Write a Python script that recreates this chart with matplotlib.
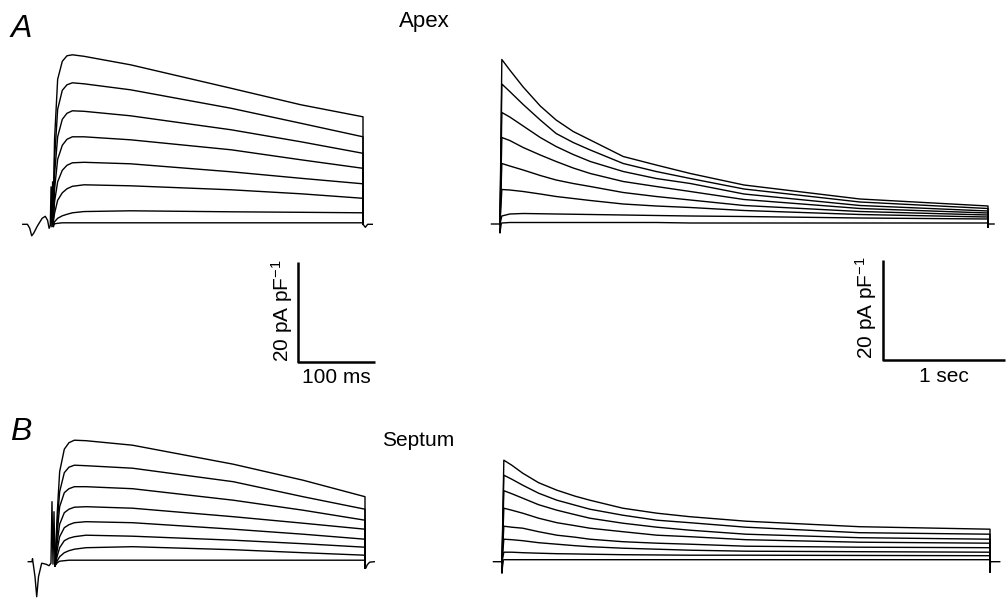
import matplotlib
matplotlib.use('Agg')
import matplotlib.pyplot as plt

plt.rcParams['font.family'] = ['Liberation Sans', 'DejaVu Sans']
plt.rcParams['mathtext.fontset'] = 'custom'
plt.rcParams['mathtext.rm'] = 'Liberation Sans'
plt.rcParams['mathtext.default'] = 'regular'

# ---- A (apex), 400 ms steps: time in ms, current in pA/pF
t_a_short = [0, 2, 6, 12, 18, 25, 40, 100, 230, 320, 400]
i_a_short = [
    [0, 17.0, 29.0, 32.6, 33.7, 33.9, 33.6, 31.9, 27.2, 23.9, 21.5],
    [0, 13.0, 23.0, 26.8, 27.9, 28.3, 28.1, 26.9, 23.2, 20.2, 17.5],
    [0, 10.0, 17.5, 21.0, 22.2, 22.7, 22.6, 21.7, 18.9, 16.5, 14.2],
    [0, 7.0, 13.0, 15.8, 17.0, 17.5, 17.5, 16.9, 14.9, 12.9, 11.2],
    [0, 4.5, 8.5, 10.8, 11.8, 12.3, 12.4, 12.1, 10.5, 9.2, 8.1],
    [0, 2.2, 4.8, 6.3, 7.1, 7.6, 7.9, 7.7, 6.9, 6.1, 5.2],
    [0, 0.5, 1.2, 1.7, 2.0, 2.3, 2.55, 2.7, 2.5, 2.4, 2.3],
    [0, 0.1, 0.2, 0.3, 0.3, 0.3, 0.3, 0.3, 0.3, 0.3, 0.3],
]
art_a_short_t = [-39, -33, -30, -27.5, -25, -20, -14, -10, -7, -5, -3.5, -2.5, -1.5, -0.5, 0.5, 1.5]
art_a_short_i = [0, 0, -0.8, -2.3, -1.8, -0.3, 1.2, 1.6, 0.8, -0.8, -0.3, 7.5, -0.5, 8.5, -0.5, 0]
tail_a_short_t = [400, 403, 406, 412]
tail_a_short_i = [0, -0.6, 0, 0]

# ---- A (apex), 4 s steps: time in s
t_a_long = [0, 0.015, 0.08, 0.19, 0.33, 0.46, 0.6, 0.74, 1.01, 1.28, 1.56, 2.0, 2.95, 4.0]
i_a_long = [
    [0, 32.9, 30.8, 27.4, 23.6, 20.8, 18.5, 16.8, 13.5, 11.8, 10.1, 7.8, 5.0, 3.6],
    [0, 28.0, 26.5, 23.9, 20.8, 18.1, 16.3, 14.8, 12.1, 10.5, 9.1, 7.0, 4.4, 3.1],
    [0, 22.3, 21.4, 19.6, 17.3, 15.5, 13.9, 12.5, 10.5, 9.1, 8.1, 6.0, 3.7, 2.6],
    [0, 17.3, 16.7, 15.3, 13.8, 12.5, 11.2, 10.1, 8.5, 7.5, 6.5, 4.9, 3.1, 2.2],
    [0, 12.1, 11.6, 10.8, 9.7, 8.8, 8.1, 7.5, 6.3, 5.5, 4.8, 3.7, 2.5, 1.8],
    [0, 6.9, 6.8, 6.5, 6.0, 5.5, 5.1, 4.7, 4.0, 3.6, 3.3, 2.7, 1.9, 1.4],
    [0, 1.6, 2.0, 2.1, 2.05, 2.0, 1.95, 1.9, 1.8, 1.7, 1.6, 1.5, 1.2, 1.0],
    [0, 0.2, 0.3, 0.3, 0.3, 0.3, 0.3, 0.3, 0.3, 0.3, 0.2, 0.2, 0.2, 0.2],
]
art_a_long_t = [-0.07, -0.002, 0.0, 0.004, 0.01]
art_a_long_i = [0, 0, -1.8, -1.0, 0]
tail_a_long_t = [4.0, 4.004, 4.05]
tail_a_long_i = [-0.6, 0, 0]

# ---- B (septum), 400 ms steps
t_b_short = [0, 3, 6, 12, 18, 25, 40, 100, 230, 320, 400]
i_b_short = [
    [-0.8, 10.0, 18.0, 22.5, 23.8, 24.3, 24.2, 23.3, 19.5, 16.3, 13.0],
    [-0.8, 8.0, 14.0, 17.8, 18.9, 19.3, 19.2, 18.7, 16.0, 13.0, 10.5],
    [-0.8, 6.0, 11.0, 13.8, 14.6, 15.0, 15.0, 14.6, 12.3, 10.3, 8.3],
    [-0.8, 4.0, 7.5, 9.8, 10.5, 10.9, 11.0, 10.7, 9.0, 7.7, 6.5],
    [-0.8, 2.5, 5.0, 6.8, 7.4, 7.8, 8.0, 7.8, 6.5, 5.5, 4.5],
    [-0.8, 1.2, 2.8, 4.2, 4.7, 5.0, 5.3, 5.1, 4.3, 3.6, 2.9],
    [-0.8, 0.2, 1.0, 1.8, 2.2, 2.5, 2.8, 3.0, 2.4, 1.8, 1.3],
    [-0.8, -0.2, 0.1, 0.2, 0.3, 0.3, 0.3, 0.3, 0.3, 0.3, 0.3],
]
art_b_short_t = [-34.5, -29.7, -29, -28.5, -25.8, -23.6, -21.3, -17.2, -11.6, -7.7, -5.2, -3.9, -2.6, -1.3, 0]
art_b_short_i = [0, 0, 0.6, 0, -3.0, -7.0, -3.0, -0.3, -0.5, -0.8, -0.3, 12.0, -0.5, 10.0, -0.8]
tail_b_short_t = [400, 401, 403, 406, 412]
tail_b_short_i = [-1.3, -1.3, -0.6, -0.1, 0]

# ---- B (septum), 4 s steps
t_b_long = [0, 0.015, 0.08, 0.17, 0.3, 0.45, 0.6, 0.72, 0.99, 1.27, 1.54, 2.0, 2.93, 4.0]
i_b_long = [
    [0, 20.3, 19.3, 17.7, 15.8, 14.3, 13.1, 12.3, 10.7, 9.7, 9.0, 8.1, 7.0, 6.5],
    [0, 17.3, 16.5, 15.3, 13.7, 12.3, 11.3, 10.5, 9.3, 8.3, 7.8, 6.9, 5.8, 5.5],
    [0, 14.2, 13.6, 12.7, 11.4, 10.3, 9.4, 8.7, 7.7, 6.9, 6.3, 5.5, 4.8, 4.5],
    [0, 10.7, 10.3, 9.7, 8.7, 7.8, 7.2, 6.7, 6.0, 5.3, 5.0, 4.4, 3.9, 3.7],
    [0, 7.1, 6.9, 6.7, 6.0, 5.3, 4.9, 4.5, 4.0, 3.7, 3.5, 3.1, 2.9, 2.8],
    [0, 4.5, 4.4, 4.2, 3.8, 3.5, 3.2, 3.0, 2.7, 2.5, 2.3, 2.1, 2.0, 1.9],
    [0, 1.9, 1.9, 1.8, 1.7, 1.6, 1.55, 1.5, 1.4, 1.35, 1.3, 1.3, 1.25, 1.2],
    [0, 0.4, 0.4, 0.4, 0.4, 0.4, 0.4, 0.4, 0.4, 0.4, 0.4, 0.4, 0.4, 0.4],
]
art_b_long_t = [-0.07, -0.002, 0.0, 0.004, 0.01]
art_b_long_i = [0, 0, -2.3, -1.0, 0]
tail_b_long_t = [4.0, 4.004, 4.08]
tail_b_long_i = [-2.0, 0, 0]

W, H = 1007, 601
fig = plt.figure(figsize=(W / 100, H / 100), dpi=100)


def panel(l, r, t, b, x0, xscale, y0):
    # pixel box of the axes, pixel of time zero, px per time unit, baseline pixel
    ax = fig.add_axes([l / W, 1 - b / H, (r - l) / W, (b - t) / H])
    ax.set_xlim((l - x0) / xscale, (r - x0) / xscale)
    ax.set_ylim((y0 - b) / 5, (y0 - t) / 5)
    ax.axis('off')
    return ax


def traces(ax, t, curves, art_t, art_i, tail_t, tail_i):
    for c in curves:
        ax.plot(t + [t[-1]], c + [tail_i[0]], color='black', lw=1.0)
    ax.plot(art_t, art_i, color='black', lw=1.0)
    ax.plot(tail_t, tail_i, color='black', lw=1.0)


ax1 = panel(0, 420, 40, 400, 53, 0.775, 224.3)
traces(ax1, t_a_short, i_a_short, art_a_short_t, art_a_short_i, tail_a_short_t, tail_a_short_i)
ax1.plot([316, 316, 416], [-7.5, -27.5, -27.5], color='black', lw=1.8, solid_capstyle='butt')
ax1.text(366, -30.6, '100 ms', ha='center', va='center', fontsize=15)
ax1.text(295, -17.3, r'20 pA pF$^{-1}$', ha='center', va='center', rotation=90, fontsize=15)

ax2 = panel(460, 1007, 40, 400, 500, 122, 224)
traces(ax2, t_a_long, i_a_long, art_a_long_t, art_a_long_i, tail_a_long_t, tail_a_long_i)
ax2.plot([3.14, 3.14, 4.14], [-7.2, -27.2, -27.2], color='black', lw=1.8, solid_capstyle='butt')
ax2.text(3.64, -30.6, '1 sec', ha='center', va='center', fontsize=15)
ax2.text(3.0, -16.8, r'20 pA pF$^{-1}$', ha='center', va='center', rotation=90, fontsize=15)

ax3 = panel(0, 420, 410, 601, 55, 0.775, 561.7)
traces(ax3, t_b_short, i_b_short, art_b_short_t, art_b_short_i, tail_b_short_t, tail_b_short_i)

ax4 = panel(460, 1007, 410, 601, 502, 122, 561.7)
traces(ax4, t_b_long, i_b_long, art_b_long_t, art_b_long_i, tail_b_long_t, tail_b_long_i)

fig.text(21 / W, 1 - 29 / H, 'A', fontsize=23, style='italic', ha='center', va='center')
fig.text(21 / W, 1 - 432 / H, 'B', fontsize=23, style='italic', ha='center', va='center')
fig.text(424 / W, 1 - 22 / H, 'Apex', fontsize=16, ha='center', va='center')
fig.text(418 / W, 1 - 440 / H, 'Septum', fontsize=15, ha='center', va='center')

fig.savefig('out.png', dpi=100)
